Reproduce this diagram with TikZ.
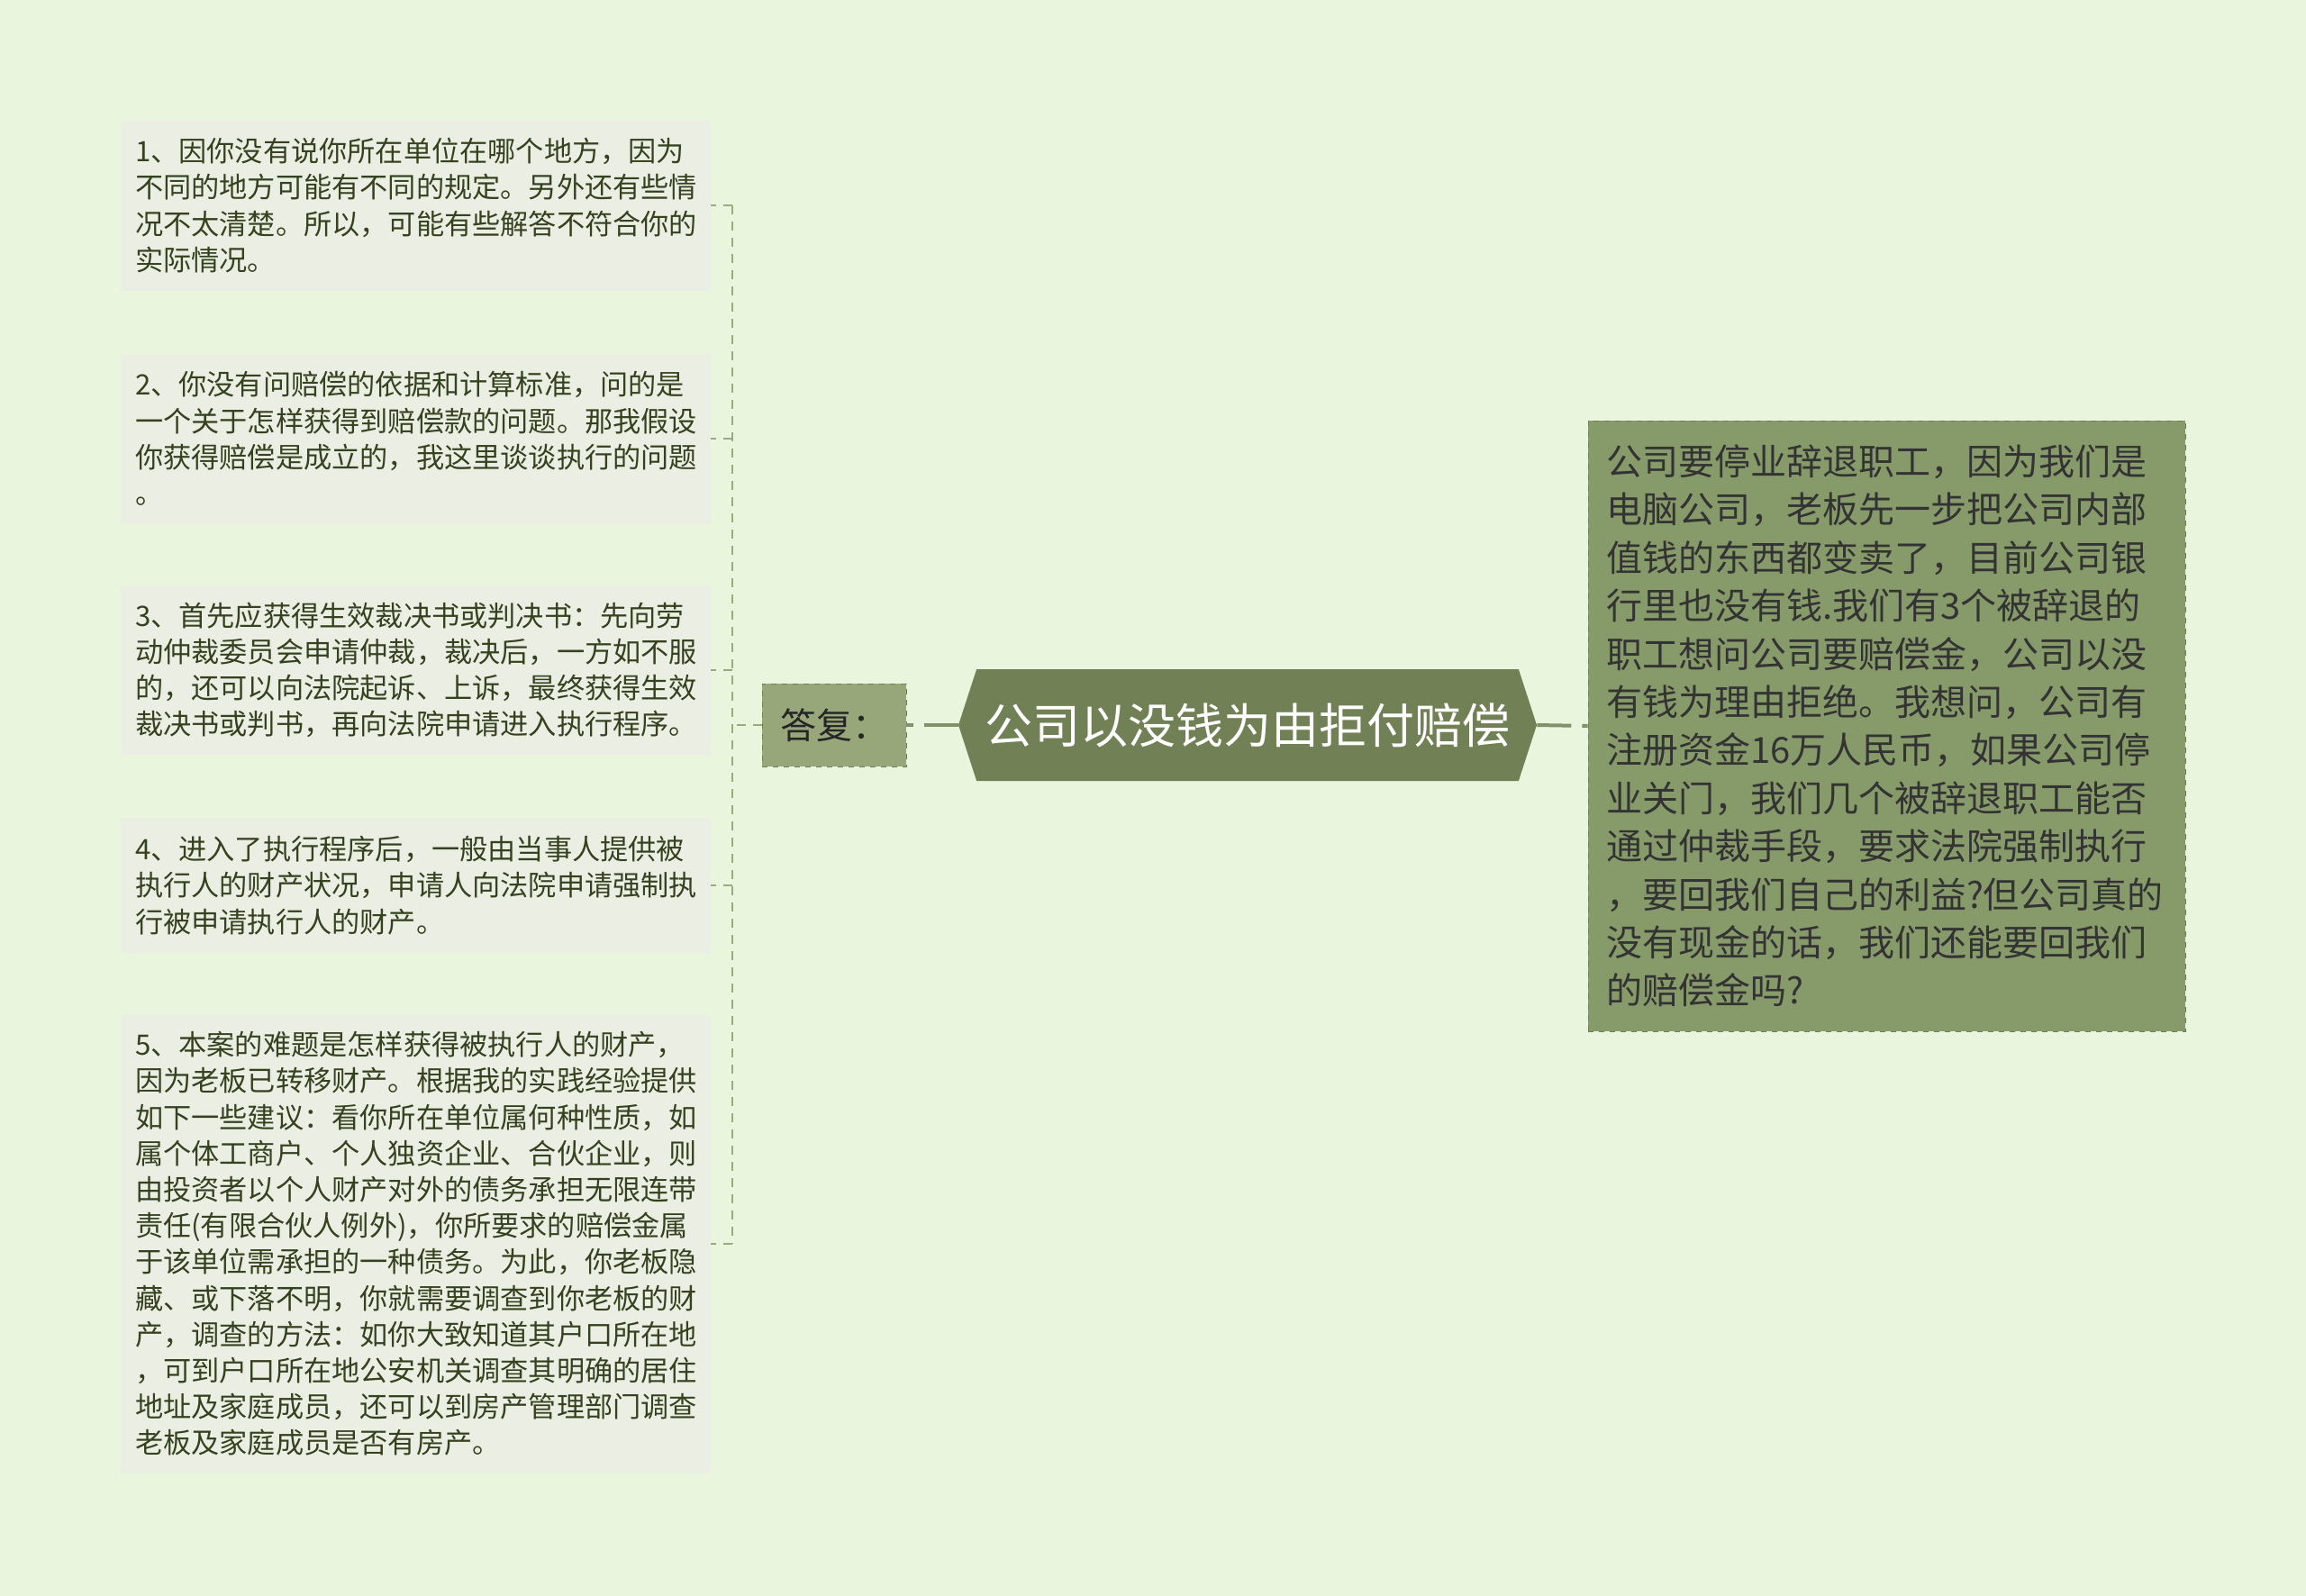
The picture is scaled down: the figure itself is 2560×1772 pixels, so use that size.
\documentclass[tikz,border=0pt]{standalone}
\usepackage{fontspec}
\setmainfont{Noto Sans CJK SC}
\usetikzlibrary{shapes.symbols}
\usepackage{xcolor}
\definecolor{bgcol}{HTML}{E9F5DC}
\definecolor{leafcol}{HTML}{EBEFE3}
\definecolor{leaftext}{HTML}{35421F}
\definecolor{linkcol}{HTML}{9AAB7E}
\definecolor{replycol}{HTML}{97A77A}
\definecolor{rootcol}{HTML}{718155}
\definecolor{askcol}{HTML}{879A69}
\definecolor{askline}{HTML}{6E7F52}

\begin{document}
\begin{tikzpicture}[x=0.5pt,y=-0.5pt]
    \tikzset{leaf/.style = {shape=rectangle,fill=leafcol,text=leaftext,
        minimum width=327.5pt,inner xsep=8pt,text width=311.5pt,align=left,
        font=\fontsize{15.6pt}{20.1pt}\selectfont}}
    \tikzset{reply/.style = {shape=rectangle,fill=replycol,draw=askline,dashed,
        minimum width=80pt,minimum height=46pt,text=black!85,
        font=\fontsize{20pt}{24pt}\selectfont}}
    \tikzset{root/.style = {shape=signal,signal to=east and west,
        signal pointer angle=144,fill=rootcol,text=white,
        minimum width=321pt,minimum height=62pt,inner xsep=2pt,
        font=\fontsize{26.5pt}{30pt}\selectfont}}
    \tikzset{ask/.style = {shape=rectangle,fill=askcol,draw=askline,dashed,
        minimum width=331.5pt,minimum height=339pt,inner xsep=10pt,
        text width=311.5pt,align=left,text=black!80,
        font=\fontsize{20pt}{26.7pt}\selectfont}}
    \tikzset{link/.style = {-,draw=linkcol,line width=1pt,dash pattern=on 5pt off 4pt}}
    \tikzset{stem/.style = {-,draw=linkcol!85!black,line width=2pt,dash pattern=on 19pt off 6pt}}
    % background
    \fill[bgcol] (0,0) rectangle (2560,1772);
    % vertices
    \node[root] (root) at (1385,805) {公司以没钱为由拒付赔偿};
    \node[reply] (reply) at (926,805) {答复：};
    \node[ask] (ask) at (2094.5,806) {公司要停业辞退职工，因为我们是\\
        电脑公司，老板先一步把公司内部\\
        值钱的东西都变卖了，目前公司银\\
        行里也没有钱.我们有3个被辞退的\\
        职工想问公司要赔偿金，公司以没\\
        有钱为理由拒绝。我想问，公司有\\
        注册资金16万人民币，如果公司停\\
        业关门，我们几个被辞退职工能否\\
        通过仲裁手段，要求法院强制执行\\
        ，要回我们自己的利益?但公司真的\\
        没有现金的话，我们还能要回我们\\
        的赔偿金吗?};
    \node[leaf,minimum height=94.5pt] (b1) at (461.5,228) {1、因你没有说你所在单位在哪个地方，因为\\
        不同的地方可能有不同的规定。另外还有些情\\
        况不太清楚。所以，可能有些解答不符合你的\\
        实际情况。};
    \node[leaf,minimum height=94.5pt] (b2) at (461.5,487) {2、你没有问赔偿的依据和计算标准，问的是\\
        一个关于怎样获得到赔偿款的问题。那我假设\\
        你获得赔偿是成立的，我这里谈谈执行的问题\\
        。};
    \node[leaf,minimum height=94.5pt] (b3) at (461.5,744) {3、首先应获得生效裁决书或判决书：先向劳\\
        动仲裁委员会申请仲裁，裁决后，一方如不服\\
        的，还可以向法院起诉、上诉，最终获得生效\\
        裁决书或判书，再向法院申请进入执行程序。};
    \node[leaf,minimum height=75pt] (b4) at (461.5,983) {4、进入了执行程序后，一般由当事人提供被\\
        执行人的财产状况，申请人向法院申请强制执\\
        行被申请执行人的财产。};
    \node[leaf,minimum height=254.5pt] (b5) at (461.5,1381) {5、本案的难题是怎样获得被执行人的财产，\\
        因为老板已转移财产。根据我的实践经验提供\\
        如下一些建议：看你所在单位属何种性质，如\\
        属个体工商户、个人独资企业、合伙企业，则\\
        由投资者以个人财产对外的债务承担无限连带\\
        责任(有限合伙人例外)，你所要求的赔偿金属\\
        于该单位需承担的一种债务。为此，你老板隐\\
        藏、或下落不明，你就需要调查到你老板的财\\
        产，调查的方法：如你大致知道其户口所在地\\
        ，可到户口所在地公安机关调查其明确的居住\\
        地址及家庭成员，还可以到房产管理部门调查\\
        老板及家庭成员是否有房产。};
    \coordinate (spine) at (813,805);

    %edges
    \draw[stem] (root.west) -- (reply.east);
    \draw[stem] (root.east) -- (ask.west);
    \draw[link] (reply.west) -- (spine);
    \draw[link] (b1.east -| spine) -- (b5.east -| spine);
    \draw[link] (b1.east -| spine) -- (b1.east);
    \draw[link] (b2.east -| spine) -- (b2.east);
    \draw[link] (b3.east -| spine) -- (b3.east);
    \draw[link] (b4.east -| spine) -- (b4.east);
    \draw[link] (b5.east -| spine) -- (b5.east);
\end{tikzpicture}
\end{document}
